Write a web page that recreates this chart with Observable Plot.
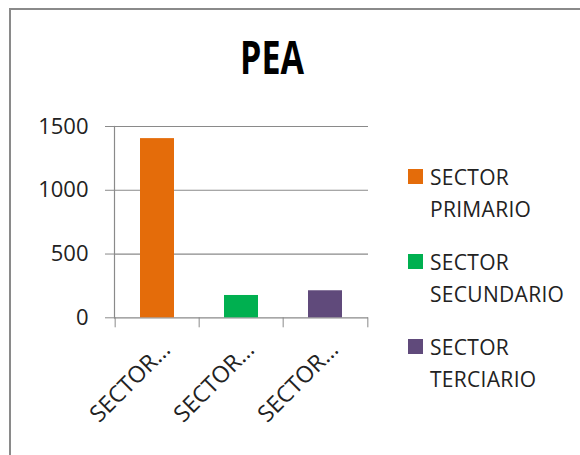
<!DOCTYPE html>
<html>
<head>
<meta charset="utf-8">
<script src="https://cdn.jsdelivr.net/npm/d3@7"></script>
<script src="https://cdn.jsdelivr.net/npm/@observablehq/plot@0.6"></script>
<style>
  html, body { margin: 0; padding: 0; background: #fff; }
  #wrap { position: relative; width: 580px; height: 455px; overflow: hidden; font-family: "Open Sans", sans-serif; }
  #frame { position: absolute; left: 9px; top: 8px; width: 620px; height: 520px; border-left: 2px solid #8a8a8a; border-top: 2px solid #8a8a8a; box-sizing: border-box; }
  #title { position: absolute; left: 172px; width: 200px; top: 26px; text-align: center; font-weight: 700; font-size: 46px; line-height: 60px; color: #000; transform: scaleX(0.74); }
  #chart { position: absolute; left: 0; top: 0; }
  #legend { position: absolute; left: 408px; top: 0; }
  .item { position: absolute; left: 0; width: 170px; }
  .sw { position: absolute; left: 0; width: 15px; height: 15px; }
  .lbl { position: absolute; left: 22px; font-size: 21px; line-height: 31.5px; color: #222; white-space: nowrap; letter-spacing: 0.3px; }
</style>
</head>
<body>
<div id="wrap">
  <div id="frame"></div>
  <div id="chart"></div>
  <div id="title"></div>
  <div id="legend"></div>
</div>
<script>
const chartTitle = "PEA";
const categories = ["SECTOR PRIMARIO", "SECTOR SECUNDARIO", "SECTOR TERCIARIO"];
const values = [1405, 175, 212];
const colors = ["#E46C0A", "#00B050", "#604A7B"];
const yTicks = [0, 500, 1000, 1500];

const data = categories.map((c, i) => ({sector: c, value: values[i]}));

const W = 580, H = 455;
const mL = 114, mR = 212, mT = 126, mB = 137.7;
const step = (W - mL - mR) / categories.length;

const plot = Plot.plot({
  width: W,
  height: H,
  marginLeft: mL,
  marginRight: mR,
  marginTop: mT,
  marginBottom: mB,
  style: {fontFamily: "Open Sans, sans-serif", background: "transparent", color: "#222"},
  x: {domain: categories, paddingInner: 0.6, paddingOuter: 0.3, axis: null},
  y: {domain: [0, 1500], axis: null},
  color: {domain: categories, range: colors},
  marks: [
    Plot.ruleY(yTicks, {stroke: "#8a8a8a", strokeWidth: 1.2}),
    Plot.axisY({ticks: yTicks, tickFormat: "d", tickSize: 9, tickPadding: 17, stroke: "#8a8a8a", fill: "#222", fontSize: 22, label: null}),
    Plot.frame({anchor: "left", stroke: "#8a8a8a", strokeWidth: 1.2}),
    Plot.barY(data, {x: "sector", y: "value", fill: "sector"}),
    Plot.axisX({tickSize: 10, tickFormat: () => "", dx: -step / 2, stroke: "#8a8a8a", label: null}),
    Plot.axisX({ticks: categories.slice(-1), tickSize: 10, tickFormat: () => "", dx: step / 2, stroke: "#8a8a8a", label: null}),
    Plot.axisX({tickSize: 0, tickPadding: 0, tickRotate: -45, tickFormat: d => d.split(" ")[0] + "…",
                fontSize: 23, fill: "#222", dx: 9, dy: 28, label: null})
  ]
});
document.getElementById("chart").appendChild(plot);

document.getElementById("title").textContent = chartTitle;

const legend = document.getElementById("legend");
categories.forEach((c, i) => {
  const item = document.createElement("div");
  item.className = "item";
  item.style.top = (162 + i * 85) + "px";
  const sw = document.createElement("div");
  sw.className = "sw";
  sw.style.background = colors[i];
  sw.style.top = "7px";
  const lbl = document.createElement("div");
  lbl.className = "lbl";
  lbl.style.top = "0px";
  lbl.innerHTML = c.split(" ").join("<br>");
  item.appendChild(sw);
  item.appendChild(lbl);
  legend.appendChild(item);
});
</script>
</body>
</html>
